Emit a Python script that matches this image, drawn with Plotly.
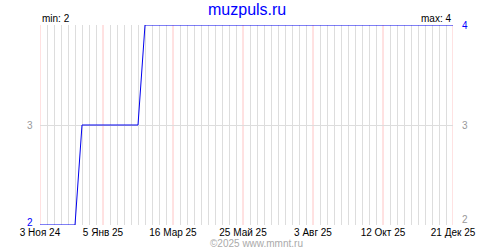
import plotly.graph_objects as go
import pandas as pd

# data (step points)
dates = ["2024-11-03", "2024-12-08", "2024-12-15", "2025-02-09", "2025-02-16", "2025-12-21"]
values = [2, 2, 3, 3, 4, 4]

tick_dates = ["2024-11-03", "2025-01-05", "2025-03-16", "2025-05-25", "2025-08-03", "2025-10-12", "2025-12-21"]
tick_text = ["3 Ноя 24", "5 Янв 25", "16 Мар 25", "25 Май 25", "3 Авг 25", "12 Окт 25", "21 Дек 25"]

y_levels = [2, 3, 4]
left_labels = ["2", "3", ""]
left_colors = ["#0000ff", "#999999", "#999999"]
right_labels = ["2", "3", "4"]
right_colors = ["#999999", "#999999", "#0000ff"]

title = "muzpuls.ru"
min_text = "min: 2"
max_text = "max: 4"
copyright_text = "©2025 www.mmnt.ru"

FONT = "Liberation Sans, Arial, sans-serif"

# weekly grid positions, excluding the labelled (pink) ones
weeks = [d.strftime("%Y-%m-%d") for d in pd.date_range(tick_dates[0], tick_dates[-1], freq="7D")]
minor_weeks = [w for w in weeks if w not in tick_dates]

fig = go.Figure()
fig.add_trace(go.Scatter(x=dates, y=values, mode="lines",
                         line=dict(color="#0000ee", width=1), hoverinfo="skip"))

fig.update_layout(
    width=500, height=250,
    margin=dict(l=40, r=47, t=25, b=25),
    paper_bgcolor="white", plot_bgcolor="white",
    showlegend=False,
    font=dict(family=FONT, size=10, color="black"),
    xaxis=dict(
        type="date",
        range=[tick_dates[0], tick_dates[-1]],
        tickmode="array", tickvals=tick_dates, ticktext=tick_text,
        showgrid=False,
        zeroline=False, showline=False, ticks="",
        tickfont=dict(family=FONT, size=10, color="black"),
        minor=dict(tickmode="array", tickvals=minor_weeks,
                   showgrid=True, gridcolor="#dddddd", gridwidth=1),
        fixedrange=True,
    ),
    yaxis=dict(
        range=[2, 4], tickmode="array", tickvals=y_levels,
        showticklabels=False, showgrid=True, gridcolor="#dddddd", gridwidth=1,
        zeroline=False, showline=False, ticks="", fixedrange=True,
    ),
)

# pink lines at labelled dates (above the grey grid, below the data)
for d in tick_dates:
    fig.add_shape(type="line", xref="x", yref="paper", x0=d, x1=d, y0=0, y1=1,
                  line=dict(color="#ffc4c4", width=1), layer="below")

ann = []
ann.append(dict(text=title, xref="paper", yref="paper", x=0.5, y=1, yshift=16,
                xanchor="center", yanchor="middle", showarrow=False,
                font=dict(family=FONT, size=16, color="#0000ff")))
ann.append(dict(text=min_text, xref="paper", yref="paper", x=0, y=1, yshift=7,
                xanchor="left", yanchor="middle", showarrow=False,
                font=dict(family=FONT, size=10, color="black")))
ann.append(dict(text=max_text, xref="paper", yref="paper", x=1, y=1, yshift=7,
                xanchor="right", yanchor="middle", showarrow=False,
                font=dict(family=FONT, size=10, color="black")))
ann.append(dict(text=copyright_text, xref="paper", yref="paper", x=0.5, xshift=10, y=0, yshift=-18,
                xanchor="center", yanchor="middle", showarrow=False,
                font=dict(family=FONT, size=10, color="#aaaaaa")))
for lvl, t, c in zip(y_levels, left_labels, left_colors):
    if t:
        ann.append(dict(text=t, xref="paper", yref="y", x=0, xshift=-10, y=lvl,
                        yshift=3 if lvl == 2 else 0,
                        xanchor="center", yanchor="middle", showarrow=False,
                        font=dict(family=FONT, size=10, color=c)))
for lvl, t, c in zip(y_levels, right_labels, right_colors):
    ann.append(dict(text=t, xref="paper", yref="y", x=1, xshift=12, y=lvl,
                    yshift=6 if lvl == 2 else 0,
                    xanchor="center", yanchor="middle", showarrow=False,
                    font=dict(family=FONT, size=10, color=c)))
fig.update_layout(annotations=ann)

fig.write_html("out.html")
